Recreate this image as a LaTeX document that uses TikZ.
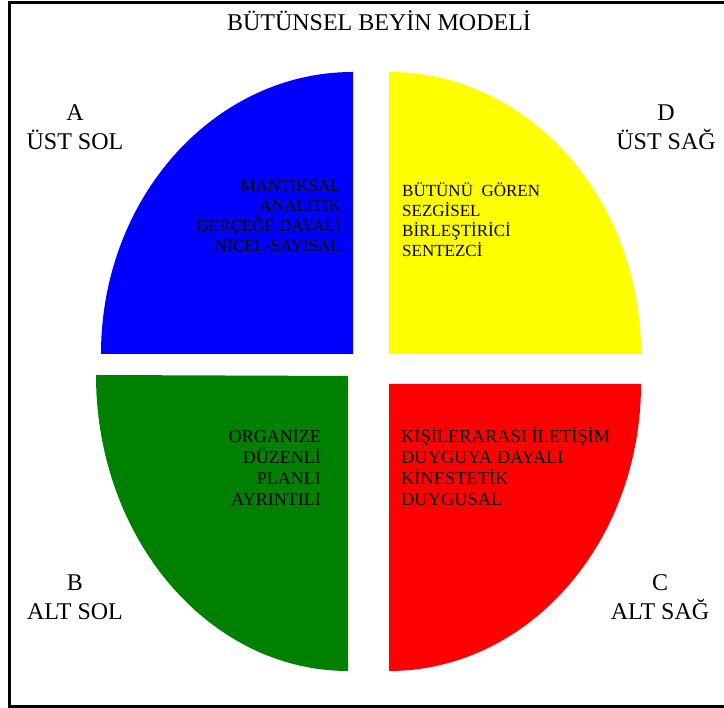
\documentclass[tikz,border=0pt]{standalone}
\usepackage{fontspec}
\setmainfont{Liberation Serif}
\definecolor{qblue}{RGB}{0,0,255}
\definecolor{qyellow}{RGB}{255,255,0}
\definecolor{qgreen}{RGB}{0,128,0}
\definecolor{qred}{RGB}{255,0,0}
\begin{document}
\begin{tikzpicture}[x=1pt,y=1pt,
  title/.style={font=\fontsize{24}{28}\selectfont, inner sep=0pt, anchor=base},
  corner/.style={font=\fontsize{24}{28}\selectfont, inner sep=0pt, anchor=base},
  inblue/.style={font=\fontsize{17}{20}\selectfont, inner sep=0pt, align=right, anchor=base east},
  inyellow/.style={font=\fontsize{17}{20}\selectfont, inner sep=0pt, align=left, anchor=base west},
  ingreen/.style={font=\fontsize{18}{21}\selectfont, inner sep=0pt, align=right, anchor=base east},
  inred/.style={font=\fontsize{18.4}{21}\selectfont, inner sep=0pt, align=left, anchor=base west}]
\useasboundingbox (0,0) rectangle (724,708);
% frame (its right side lies past the page edge)
\draw[line width=2.5pt] (9.5,705.5) rectangle (740,1.5);

% four quadrants of the brain model
\fill[qblue] (353,354) -- (353,636) arc[start angle=90, end angle=180, x radius=252pt, y radius=282pt] -- cycle;
\fill[qyellow] (389,354) -- (389,636) arc[start angle=90, end angle=0, x radius=252pt, y radius=282pt] -- cycle;
\fill[qgreen] (348,332) -- (96,333) arc[start angle=180, end angle=270, x radius=252pt, y radius=296pt] -- cycle;
\fill[qred] (389,324) -- (641,324) arc[start angle=0, end angle=-90, x radius=252pt, y radius=287pt] -- cycle;

% heading
\node[title] (baslik) at (379,677) {BÜTÜNSEL BEYİN MODELİ};

% quadrant letters and names
\node[corner] (a) at (75,587) {A};
\node[corner] (aname) at (75,558) {ÜST SOL};
\node[corner] (d) at (666,587) {D};
\node[corner] (dname) at (666,558) {ÜST SAĞ};
\node[corner] (b) at (75,117) {B};
\node[corner] (bname) at (75,88) {ALT SOL};
\node[corner] (c) at (660,117) {C};
\node[corner] (cname) at (660,88) {ALT SAĞ};

% quadrant descriptions (anchored on the baseline of the last line)
\node[inblue] (tblue) at (341,456) {MANTIKSAL\\ANALİTİK\\GERÇEĞE DAYALI\\NİCEL-SAYISAL};
\node[inyellow] (tyellow) at (402,451) {BÜTÜNÜ\ \ GÖREN\\SEZGİSEL\\BİRLEŞTİRİCİ\\SENTEZCİ};
\node[ingreen] (tgreen) at (321,202) {ORGANİZE\\DÜZENLİ\\PLANLI\\AYRINTILI};
\node[inred] (tred) at (401,202) {KİŞİLERARASI İLETİŞİM\\DUYGUYA DAYALI\\KİNESTETİK\\DUYGUSAL};
\end{tikzpicture}
\end{document}
